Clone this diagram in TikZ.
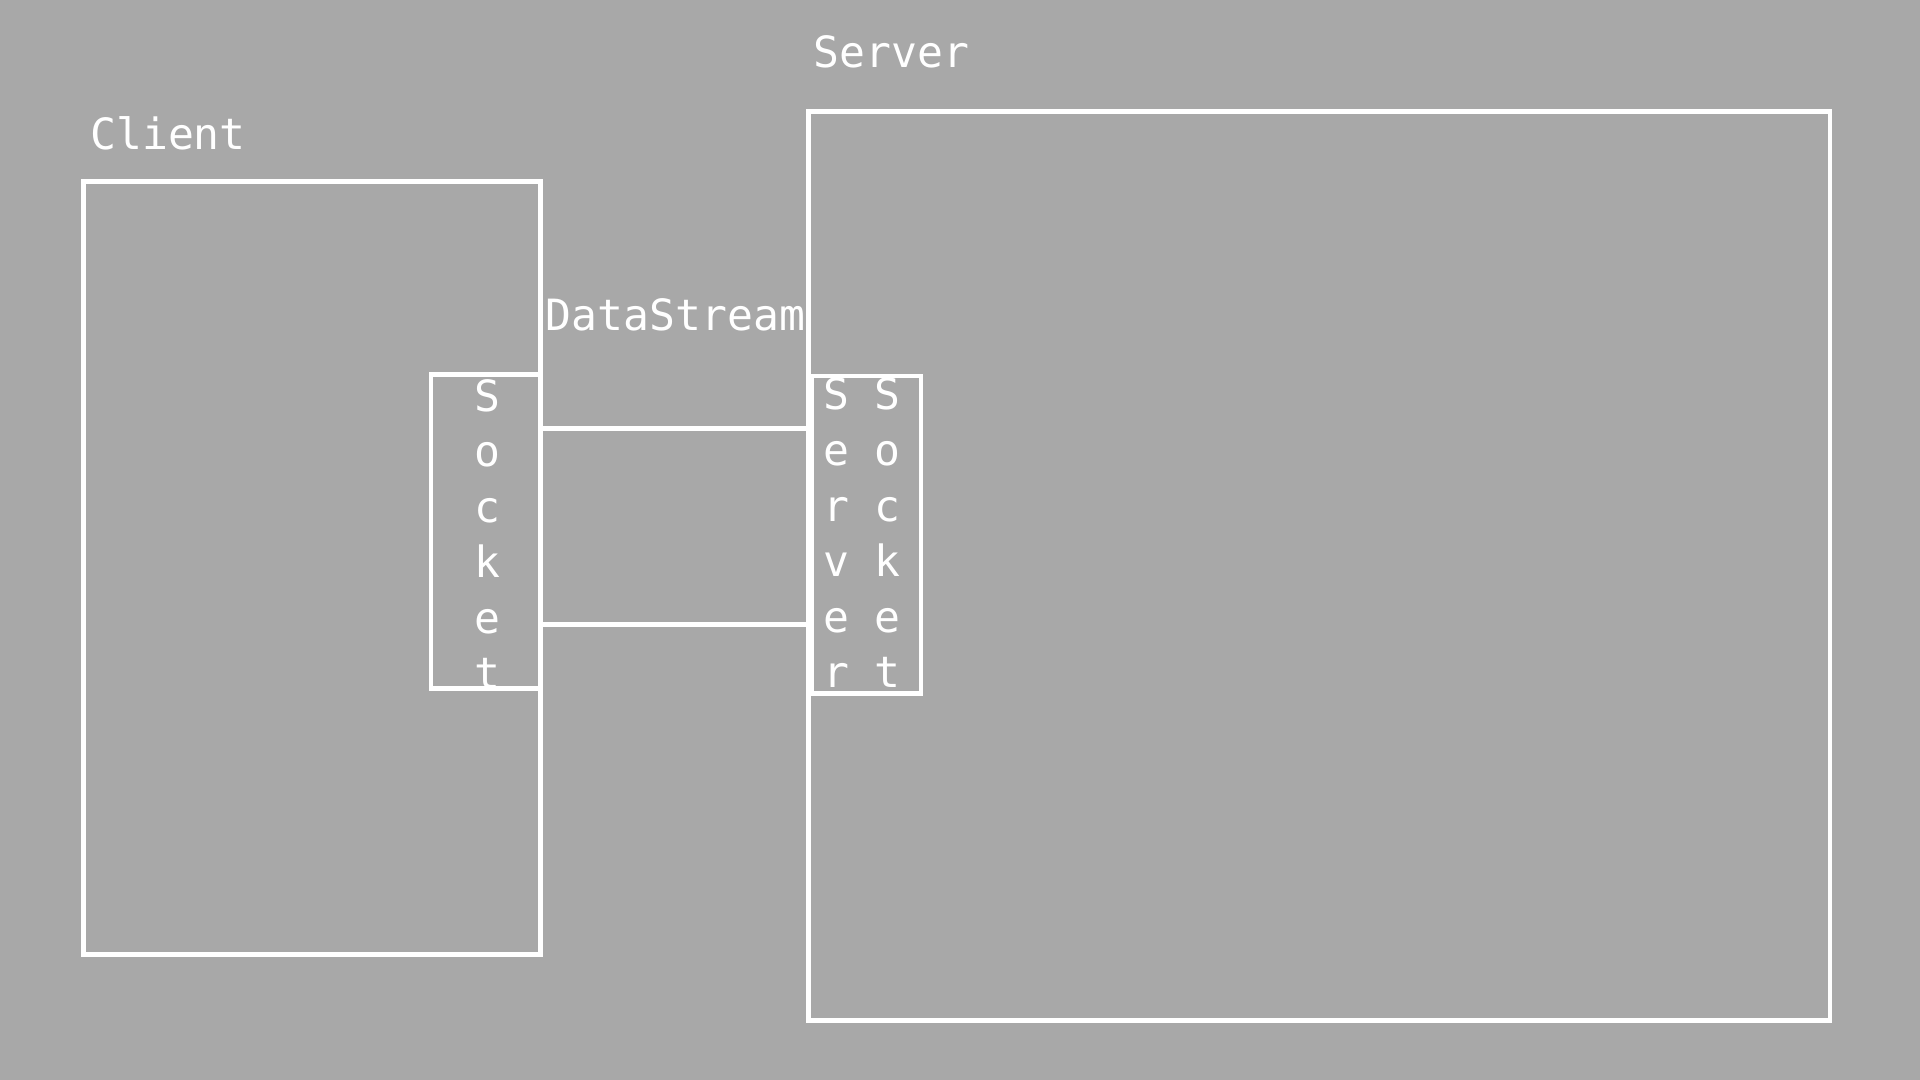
\documentclass[tikz,border=0pt]{standalone}
\usepackage{fontspec}
\newfontfamily\diagmono{DejaVu Sans Mono}
\usetikzlibrary{calc}
\definecolor{bggray}{RGB}{168,168,168}
\begin{document}
\begin{tikzpicture}[x=0.01cm,y=-0.01cm,
  boxstyle/.style={draw=white,line width=1.1pt,rectangle,inner sep=0pt,outer sep=0pt,anchor=north west},
  lbl/.style={text=white,font={\diagmono\fontsize{10}{12.9}\selectfont},inner sep=0pt},
  vlbl/.style={lbl,align=center,anchor=north},
  link/.style={draw=white,line width=1.1pt}]
\fill[bggray] (0,0) rectangle (1568,882);
\useasboundingbox (0,0) rectangle (1568,882);
% boxes
\node[boxstyle,minimum width=3.73cm,minimum height=6.31cm] (client) at (68,148) {};
\node[boxstyle,minimum width=8.34cm,minimum height=7.42cm] (server) at (660,91) {};
\node[boxstyle,minimum width=0.89cm,minimum height=2.56cm] (csock) at (352,306) {};
\node[boxstyle,minimum width=0.89cm,minimum height=2.59cm] (ssock) at (663,307) {};
% labels
\node[lbl,anchor=base west] (clientlbl) at (73,122) {Client};
\node[lbl,anchor=base west] (serverlbl) at (664,55) {Server};
\node[lbl,anchor=base west] (dslbl) at (445,270) {DataStream};
\node[vlbl] (csocktext) at (398,309) {S\\o\\c\\k\\e\\t};
\node[vlbl] (ssocktexta) at (683,308) {S\\e\\r\\v\\e\\r};
\node[vlbl] (ssocktextb) at (725,308) {S\\o\\c\\k\\e\\t};
% connectors
\coordinate (l1) at (0,350);
\coordinate (l2) at (0,510);
\draw[link] (client.east |- l1) -- (server.west |- l1);
\draw[link] (client.east |- l2) -- (server.west |- l2);
\end{tikzpicture}
\end{document}
